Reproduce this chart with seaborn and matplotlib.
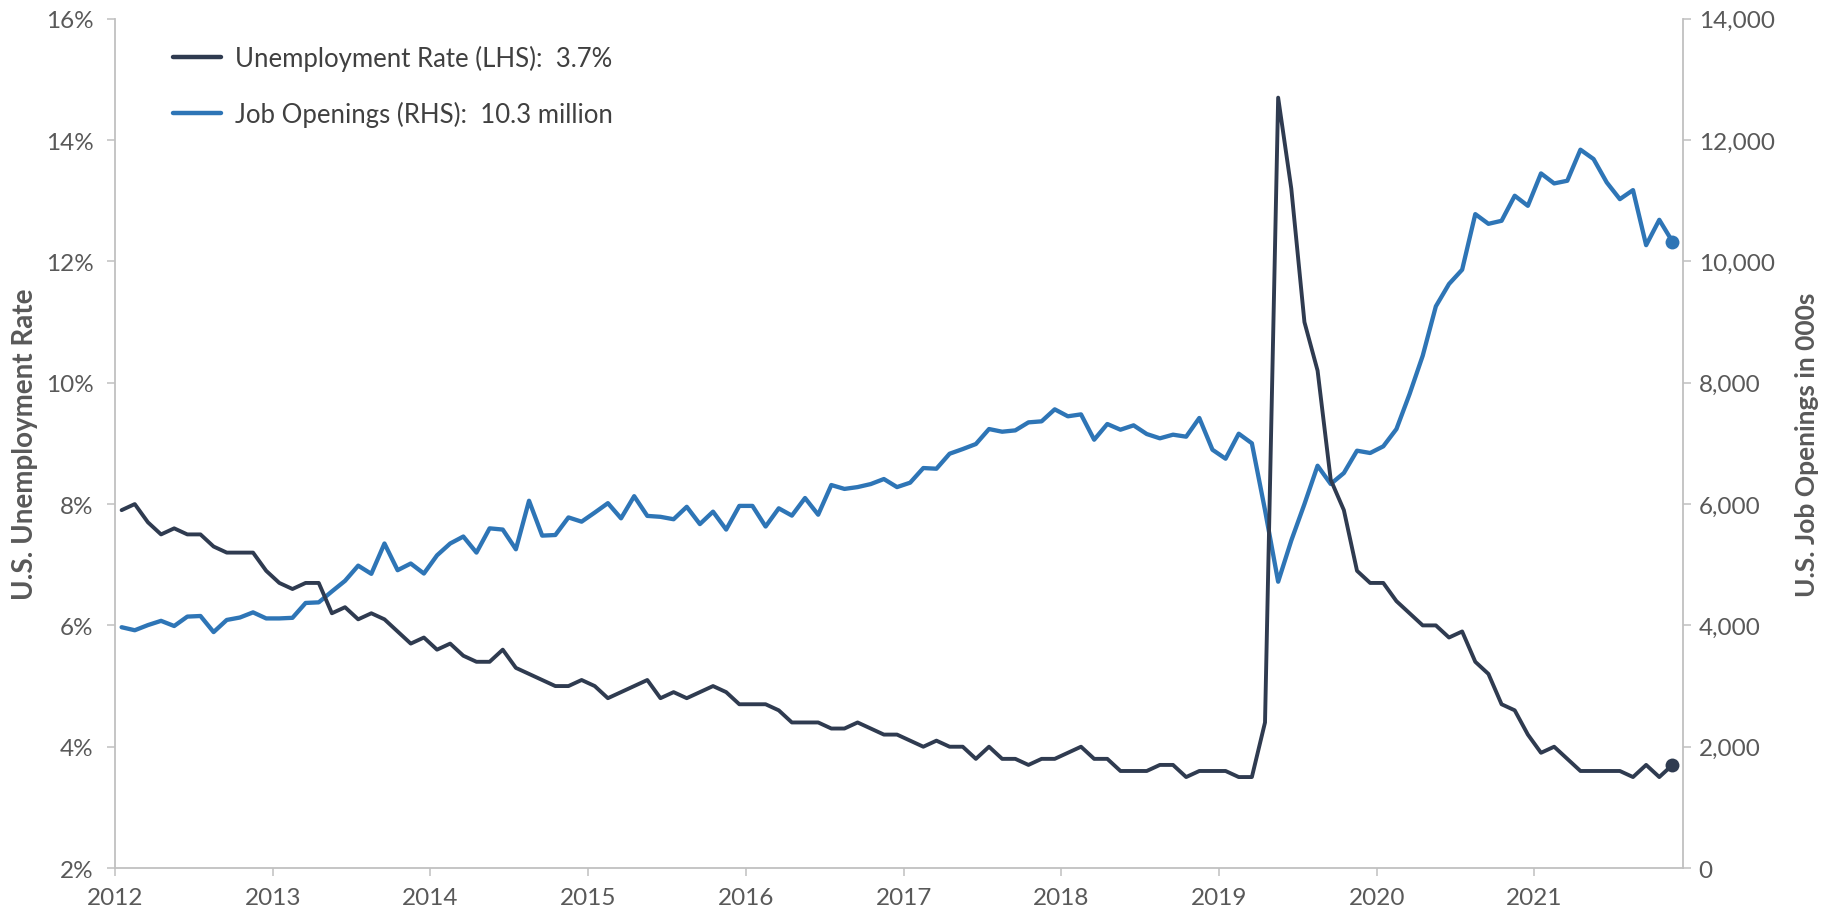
import matplotlib
matplotlib.use('Agg')

import matplotlib.pyplot as plt
import matplotlib.ticker as mticker
import numpy as np
import pandas as pd
import seaborn as sns

# monthly data, first point sits at the "2012" tick
unemployment_rate = [
    7.9, 8.0, 7.7, 7.5, 7.6, 7.5, 7.5, 7.3, 7.2, 7.2, 7.2, 6.9,
    6.7, 6.6, 6.7, 6.7, 6.2, 6.3, 6.1, 6.2, 6.1, 5.9, 5.7, 5.8,
    5.6, 5.7, 5.5, 5.4, 5.4, 5.6, 5.3, 5.2, 5.1, 5.0, 5.0, 5.1,
    5.0, 4.8, 4.9, 5.0, 5.1, 4.8, 4.9, 4.8, 4.9, 5.0, 4.9, 4.7,
    4.7, 4.7, 4.6, 4.4, 4.4, 4.4, 4.3, 4.3, 4.4, 4.3, 4.2, 4.2,
    4.1, 4.0, 4.1, 4.0, 4.0, 3.8, 4.0, 3.8, 3.8, 3.7, 3.8, 3.8,
    3.9, 4.0, 3.8, 3.8, 3.6, 3.6, 3.6, 3.7, 3.7, 3.5, 3.6, 3.6,
    3.6, 3.5, 3.5, 4.4, 14.7, 13.2, 11.0, 10.2, 8.4, 7.9, 6.9, 6.7,
    6.7, 6.4, 6.2, 6.0, 6.0, 5.8, 5.9, 5.4, 5.2, 4.7, 4.6, 4.2,
    3.9, 4.0, 3.8, 3.6, 3.6, 3.6, 3.6, 3.5, 3.7, 3.5, 3.7,
]

job_openings = [
    3970, 3920, 4005, 4075, 3990, 4145, 4155, 3890, 4090, 4130, 4215, 4115,
    4115, 4125, 4370, 4380, 4560, 4735, 4985, 4850, 5350, 4910, 5020, 4855,
    5155, 5350, 5465, 5200, 5600, 5580, 5255, 6055, 5480, 5490, 5780, 5710,
    5860, 6015, 5765, 6130, 5805, 5790, 5750, 5955, 5670, 5875, 5580, 5970,
    5970, 5630, 5930, 5810, 6100, 5825, 6314, 6250, 6280, 6330, 6413, 6280,
    6353, 6594, 6583, 6830, 6907, 6990, 7237, 7193, 7215, 7347, 7364, 7562,
    7447, 7479, 7061, 7320, 7226, 7298, 7155, 7084, 7144, 7111, 7419, 6896,
    6748, 7160, 7002, 5900, 4720, 5400, 6000, 6632, 6331, 6512, 6880, 6842,
    6952, 7237, 7814, 8446, 9260, 9628, 9864, 10780, 10620, 10670, 11083, 10917,
    11451, 11286, 11330, 11842, 11688, 11303, 11027, 11176, 10268, 10686, 10328,
]

year_ticks = list(range(2012, 2022))

unemp_label = 'Unemployment Rate (LHS):  3.7%'
jobs_label = 'Job Openings (RHS):  10.3 million'

DARK = '#2f3b50'
BLUE = '#2e75b6'
GREY_TXT = '#595959'
GREY_AX = '#c0c0c0'

df = pd.DataFrame({
    'month': np.arange(len(unemployment_rate)),
    'unemp': unemployment_rate,
    'jobs': job_openings,
})
df['year'] = 2012 + (df['month'] + 0.5) / 12

sns.set_style('white')
plt.rcParams['font.family'] = ['Lato', 'DejaVu Sans']

fig, ax = plt.subplots(figsize=(18.29, 9.12), dpi=100)
fig.subplots_adjust(left=0.0629, right=0.920, bottom=0.0471, top=0.9783)
ax2 = ax.twinx()

n = len(df)
sns.lineplot(data=df, x='year', y='jobs', ax=ax2, color=BLUE,
             linewidth=3.1, marker='o', markevery=[n - 1], markersize=10,
             markeredgewidth=0, legend=False)
sns.lineplot(data=df, x='year', y='unemp', ax=ax, color=DARK,
             linewidth=2.8, marker='o', markevery=[n - 1], markersize=10,
             markeredgewidth=0, legend=False)

# unemployment line drawn over the job openings line
ax.set_zorder(ax2.get_zorder() + 1)
ax.patch.set_visible(False)

ax.set_xlim(2012, 2021.94)
ax.set_ylim(2, 16)
ax2.set_ylim(0, 14000)
ax.set_xticks(year_ticks)
ax.set_xticklabels([str(y) for y in year_ticks])
ax.set_yticks(range(2, 17, 2))
ax2.set_yticks(range(0, 14001, 2000))
ax.yaxis.set_major_formatter(mticker.FuncFormatter(lambda v, p: f'{v:.0f}%'))
ax2.yaxis.set_major_formatter(mticker.FuncFormatter(lambda v, p: f'{v:,.0f}'))

for a in (ax, ax2):
    for side in ('top', 'left', 'right', 'bottom'):
        a.spines[side].set_visible(False)
ax.spines['left'].set_visible(True)
ax.spines['bottom'].set_visible(True)
ax2.spines['right'].set_visible(True)
for sp in (ax.spines['left'], ax.spines['bottom'], ax2.spines['right']):
    sp.set_color(GREY_AX)
    sp.set_linewidth(1.3)

ax.tick_params(axis='y', which='both', left=True, length=5.5, width=1.1,
               color=GREY_AX, labelsize=17.5, labelcolor=GREY_TXT, pad=10)
ax.tick_params(axis='x', which='both', bottom=True, length=5.5, width=1.1,
               color=GREY_AX, labelsize=17.5, labelcolor=GREY_TXT, pad=8)
ax2.tick_params(axis='y', which='both', right=True, length=5.5, width=1.1,
                color=GREY_AX, labelsize=17.5, labelcolor=GREY_TXT, pad=6)

ax.set_xlabel('')
ax.set_ylabel('U.S. Unemployment Rate', fontsize=20, fontweight='bold',
              color=GREY_TXT)
ax2.set_ylabel('U.S. Job Openings in 000s', fontsize=19, fontweight='bold',
               color=GREY_TXT)
ax.yaxis.set_label_coords(-0.049, 0.5)
ax2.yaxis.set_label_coords(1.0716, 0.5)

handles = [
    plt.Line2D([], [], color=DARK, linewidth=3.2),
    plt.Line2D([], [], color=BLUE, linewidth=3.2),
]
leg = ax.legend(handles, [unemp_label, jobs_label], loc='upper left',
                bbox_to_anchor=(0.037, 0.969), frameon=False, fontsize=18.5,
                handlelength=1.85, handletextpad=0.55, labelspacing=1.15,
                borderpad=0, borderaxespad=0)
for t in leg.get_texts():
    t.set_color('#404040')

fig.savefig('out.png', dpi=100)
